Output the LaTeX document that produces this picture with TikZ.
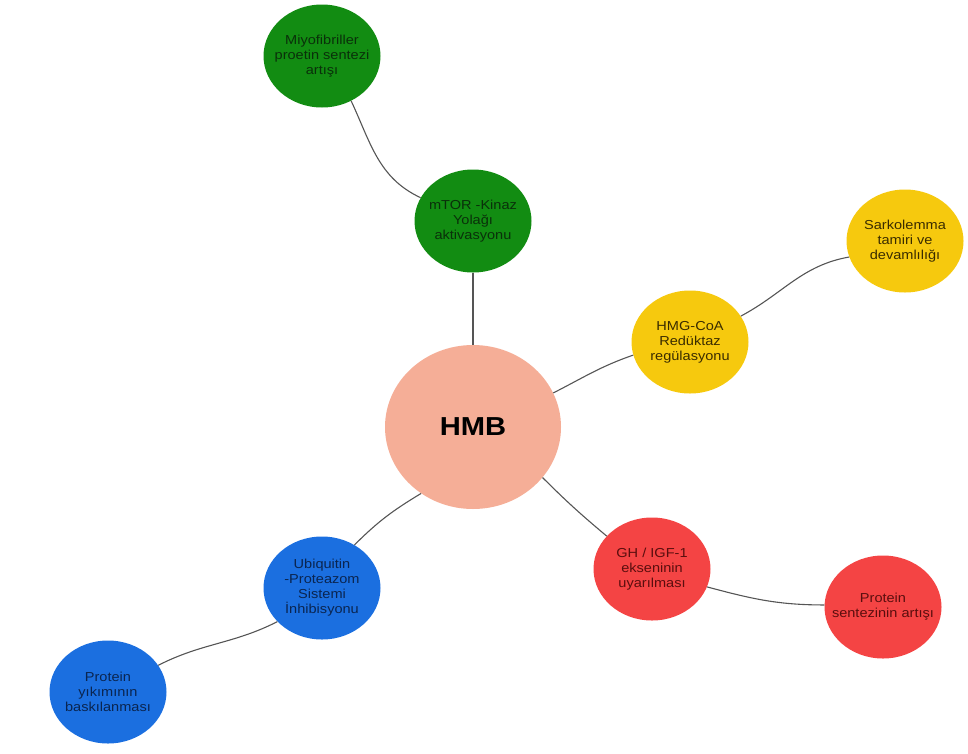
\documentclass[tikz,border=0pt]{standalone}
\usepackage{fontspec}
\setmainfont[FakeStretch=1.12]{Liberation Sans}
\usetikzlibrary{shapes.geometric}
\definecolor{gfill}{HTML}{128C12}
\definecolor{gtext}{HTML}{0A300A}
\definecolor{yfill}{HTML}{F6C90E}
\definecolor{ytext}{HTML}{3A2C00}
\definecolor{rfill}{HTML}{F44444}
\definecolor{rtext}{HTML}{5A0E0E}
\definecolor{bfill}{HTML}{1B6FE0}
\definecolor{btext}{HTML}{0A2550}
\definecolor{sfill}{HTML}{F5AE97}
\definecolor{link}{HTML}{555555}
\begin{document}
\begin{tikzpicture}[x=1pt,y=1pt,
  bubble/.style={ellipse, inner sep=-18pt, align=center,
    font=\fontsize{13}{15}\selectfont, minimum width=117pt, minimum height=103pt},
  green/.style={bubble, fill=gfill, text=gtext},
  yellow/.style={bubble, fill=yfill, text=ytext},
  red/.style={bubble, fill=rfill, text=rtext},
  blue/.style={bubble, fill=bfill, text=btext},
  hub/.style={ellipse, inner sep=0pt, fill=sfill, text=black,
    font=\fontsize{26}{30}\selectfont\bfseries, minimum width=176pt, minimum height=164pt},
  link/.style={draw=link, line width=1.1pt}]
\useasboundingbox (0,0) rectangle (968,-753);
\node[hub] (hmb) at (473,-427) {HMB};
\node[green] (mtor) at (473,-221) {mTOR -Kinaz\\Yolağı\\aktivasyonu};
\node[green] (miyo) at (322,-56) {Miyofibriller\\proetin sentezi\\artışı};
\node[yellow] (hmg) at (690,-342) {HMG-CoA\\Redüktaz\\regülasyonu};
\node[yellow] (sark) at (905,-241) {Sarkolemma\\tamiri ve\\devamlılığı};
\node[red] (gh) at (652,-569) {GH / IGF-1\\ekseninin\\uyarılması};
\node[red] (psent) at (883,-607) {Protein\\sentezinin artışı};
\node[blue] (ubi) at (322,-588) {Ubiquitin\\-Proteazom\\Sistemi\\İnhibisyonu};
\node[blue] (pyik) at (108,-692) {Protein\\yıkımının\\baskılanması};
\draw[link] (miyo.-57) to[out=-65,in=155] (mtor.156);
\draw[link] (mtor.south) -- (hmb.north);
\draw[link] (hmb.23) to[out=27,in=199] (hmg.193);
\draw[link] (hmg.27) to[out=28,in=190] (sark.196);
\draw[link] (hmb.-36) to[out=-45,in=140] (gh.144);
\draw[link] (gh.-18) to[out=-15,in=180] (psent.178);
\draw[link] (hmb.-128) to[out=211,in=45] (ubi.53);
\draw[link] (ubi.-143) to[out=207,in=27] (pyik.28);
\end{tikzpicture}
\end{document}
